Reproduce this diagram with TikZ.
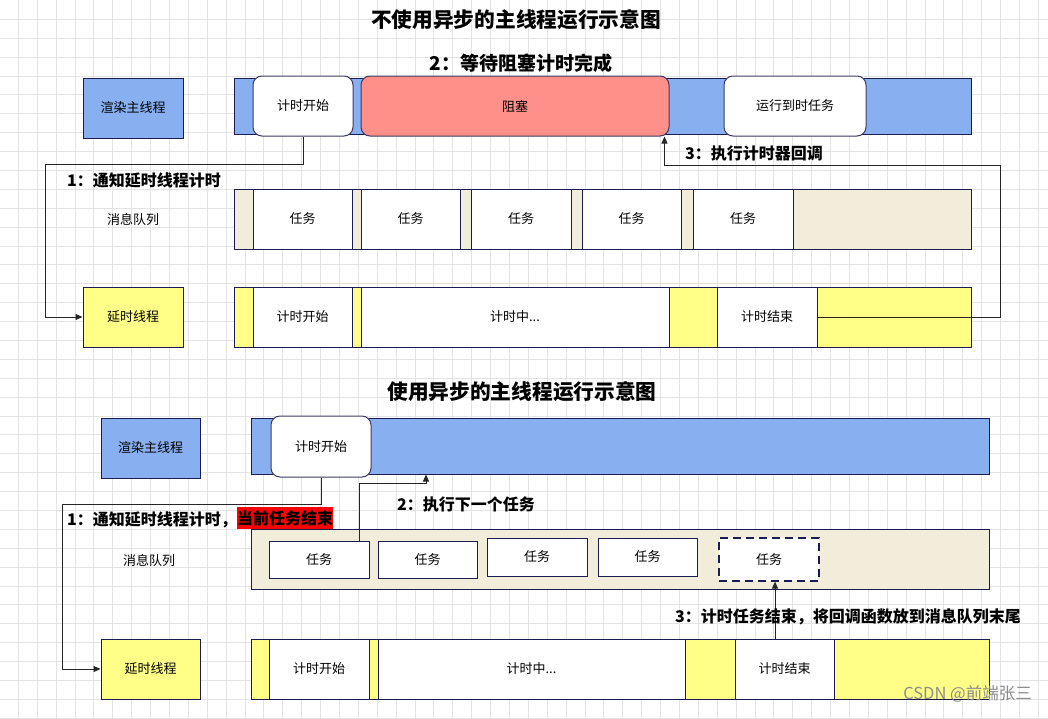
\documentclass[tikz,border=0pt]{standalone}
\usepackage{fontspec}
\setmainfont{Noto Sans CJK SC}
\usetikzlibrary{arrows.meta,calc}
\definecolor{navy}{HTML}{1C1C55}
\definecolor{rnavy}{HTML}{3A3A62}
\definecolor{blueF}{HTML}{88AFF0}
\definecolor{beigeF}{HTML}{F2ECDB}
\definecolor{yellowF}{HTML}{FFFF88}
\definecolor{redF}{HTML}{FF8F89}
\definecolor{gridc}{HTML}{E3E3E3}
\tikzset{
  box/.style={draw=navy, line width=1pt, inner sep=0pt, font=\fontsize{13}{15}\selectfont},
  rbox/.style={draw=rnavy, line width=1pt, inner sep=0pt, rounded corners=9pt, font=\fontsize{13}{15}\selectfont},
  dbox/.style={draw=navy, line width=1.2pt, inner sep=0pt, dash pattern=on 8pt off 5pt, font=\fontsize{13}{15}\selectfont},
  plain/.style={inner sep=0pt, font=\fontsize{13}{15}\selectfont},
  steplbl/.style={inner sep=0pt, anchor=west, font=\fontsize{16}{18}\selectfont\bfseries},
  titlelbl/.style={inner sep=0pt, font=\fontsize{20.7}{22}\selectfont\bfseries},
  conn/.style={draw=black!85, line width=1pt},
  arr/.style={conn, -{Triangle[length=7pt,width=6pt]}},
}
\begin{document}
\begin{tikzpicture}[x=1pt,y=-1pt]
\useasboundingbox (0,0) rectangle (1048,718);
\fill[white] (0,0) rectangle (1048,718);
% grid
\foreach \i in {0,...,54} \draw[gridc, line width=0.9pt] ({18.3+\i*18.89},0) -- ({18.3+\i*18.89},718);
\foreach \j in {0,...,37} \draw[gridc, line width=0.9pt] (0,{19.3+\j*18.89}) -- (1048,{19.3+\j*18.89});

% ===== top section =====
\node[titlelbl] (title1) at (516,20) {不使用异步的主线程运行示意图};
\node[steplbl, font=\fontsize{19}{21}\selectfont\bfseries, anchor=center] (lbl2a) at (521,63) {2：等待阻塞计时完成};

\node[box, fill=blueF, minimum width=100pt, minimum height=60pt] (lblMain1) at (133,108) {渲染主线程};
\node[box, fill=blueF, minimum width=737pt, minimum height=56pt] (bar1) at (602.5,106) {};
\node[rbox, fill=white, minimum width=100pt, minimum height=60pt] (start1) at (303,106) {计时开始};
\node[rbox, fill=redF, minimum width=308pt, minimum height=60pt] (block1) at (515,106) {阻塞};
\node[rbox, fill=white, minimum width=142pt, minimum height=60pt] (run1) at (795,106) {运行到时任务};

\node[plain] (q1lbl) at (133,220) {消息队列};
\node[box, fill=beigeF, minimum width=737pt, minimum height=60pt] (queue1) at (602.5,219) {};
\node[box, fill=white, minimum width=99pt, minimum height=60pt] (t11) at (302.5,219) {任务};
\node[box, fill=white, minimum width=99pt, minimum height=60pt] (t12) at (410.5,219) {任务};
\node[box, fill=white, minimum width=100pt, minimum height=60pt] (t13) at (521,219) {任务};
\node[box, fill=white, minimum width=99pt, minimum height=60pt] (t14) at (631.5,219) {任务};
\node[box, fill=white, minimum width=100pt, minimum height=60pt] (t15) at (743,219) {任务};

\node[box, fill=yellowF, minimum width=100pt, minimum height=60pt] (lblDelay1) at (133,317) {延时线程};
\node[box, fill=yellowF, minimum width=737pt, minimum height=60pt] (dbar1) at (602.5,317) {};
\node[box, fill=white, minimum width=99pt, minimum height=60pt] (d1start) at (302.5,317) {计时开始};
\node[box, fill=white, minimum width=308pt, minimum height=60pt] (d1mid) at (515,317) {计时中...};
\node[box, fill=white, minimum width=100pt, minimum height=60pt] (d1end) at (767,317) {计时结束};

\coordinate (c1a) at (45,164);
\draw[arr] (start1.south) |- (c1a) |- (lblDelay1.west);
\node[steplbl] (lbl1a) at (67,180) {1：通知延时线程计时};

\coordinate (c3a) at (1000,165);
\coordinate (c3b) at ($(block1.south east)+(-5,0)$);
\draw[arr] (d1end.east) -| (c3a) -| (c3b);
\node[steplbl] (lbl3a) at (685,153) {3：执行计时器回调};

% ===== bottom section =====
\node[titlelbl] (title2) at (522,392) {使用异步的主线程运行示意图};

\node[box, fill=blueF, minimum width=99pt, minimum height=60pt] (lblMain2) at (150.5,448) {渲染主线程};
\node[box, fill=blueF, minimum width=738pt, minimum height=56pt] (bar2) at (620,446) {};
\node[rbox, fill=white, minimum width=100pt, minimum height=61pt] (start2) at (321,446.5) {计时开始};

\node[plain] (q2lbl) at (149,561) {消息队列};
\node[box, fill=beigeF, minimum width=738pt, minimum height=60pt] (queue2) at (620,559) {};
\node[box, fill=white, minimum width=100pt, minimum height=37pt] (t21) at (319,559.5) {任务};
\node[box, fill=white, minimum width=99pt, minimum height=37pt] (t22) at (427.5,559.5) {任务};
\node[box, fill=white, minimum width=100pt, minimum height=38pt] (t23) at (537,557) {任务};
\node[box, fill=white, minimum width=99pt, minimum height=38pt] (t24) at (647.5,557) {任务};
\node[dbox, fill=white, minimum width=100pt, minimum height=43pt] (t25) at (769,559.5) {任务};

\node[box, fill=yellowF, minimum width=99pt, minimum height=60pt] (lblDelay2) at (150.5,669) {延时线程};
\node[box, fill=yellowF, minimum width=738pt, minimum height=60pt] (dbar2) at (620,669) {};
\node[box, fill=white, minimum width=100pt, minimum height=60pt] (d2start) at (319,669) {计时开始};
\node[box, fill=white, minimum width=307pt, minimum height=60pt] (d2mid) at (531.5,669) {计时中...};
\node[box, fill=white, minimum width=99pt, minimum height=60pt] (d2end) at (784.5,669) {计时结束};

\coordinate (c1b) at (62,504);
\draw[arr] (start2.south) |- (c1b) |- (lblDelay2.west);
\node[steplbl] (lbl1b) at (67,520) {1：通知延时线程计时，};
\node[inner sep=0pt, fill=red, minimum width=96pt, minimum height=22pt, anchor=west, font=\fontsize{16}{18}\selectfont\bfseries] (hl) at (237,518) {当前任务结束};

\coordinate (c2s) at ($(t21.north east)+(-10,0)$);
\coordinate (c2a) at (426,483);
\draw[arr] (c2s) |- (c2a) -- (c2a |- bar2.south);
\node[steplbl] (lbl2b) at (397,504) {2：执行下一个任务};

\coordinate (c3s) at (775,639);
\draw[arr] (c3s) -- (c3s |- t25.south);
\node[steplbl] (lbl3b) at (675,617) {3：计时任务结束，将回调函数放到消息队列末尾};

\node[inner sep=0pt, anchor=east, text=black!45, font=\fontsize{16.5}{18}\selectfont] (wm) at (1032,694) {CSDN @前端张三};
\end{tikzpicture}
\end{document}
